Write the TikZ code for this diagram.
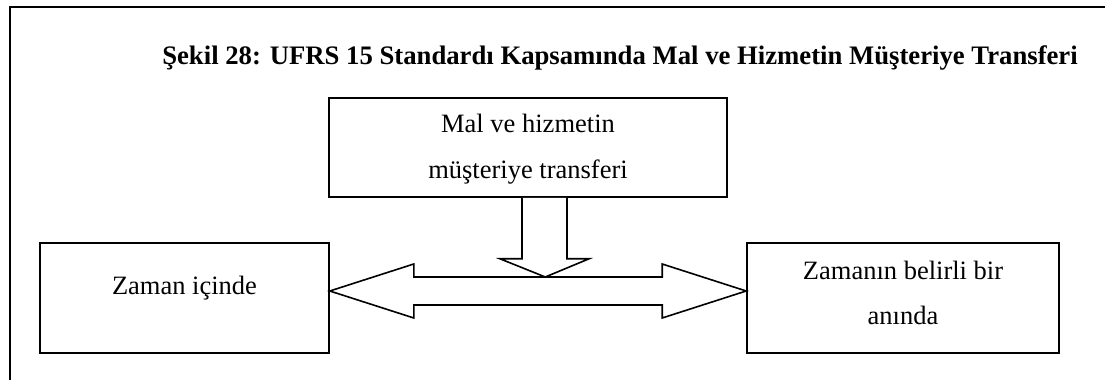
\documentclass[tikz,border=0pt]{standalone}
\usepackage{fontspec}
\setmainfont{Liberation Serif}
\usetikzlibrary{calc}
\begin{document}
\begin{tikzpicture}[x=1pt,y=1pt,
  frameline/.style={line width=2.5pt},
  box/.style={draw, line width=1.6pt, inner sep=0pt},
  txt/.style={inner sep=0pt, anchor=base, font=\fontsize{26.5}{46}\selectfont},
  blockarrow/.style={draw, line width=1.6pt, line join=miter, fill=white}]
\useasboundingbox (0,0) rectangle (1105,380);

% open frame: top and left edges
\draw[frameline] (10,0) -- (10,373) -- (1106,373);

% title
\node[inner sep=0pt, anchor=base, font=\fontsize{26.7}{32}\selectfont\bfseries] (title) at (620,315)
  {Şekil 28: UFRS 15 Standardı Kapsamında Mal ve Hizmetin Müşteriye Transferi};

% boxes
\node[box, minimum width=398pt, minimum height=99pt] (top) at (528,232.5) {};
\node[box, minimum width=289pt, minimum height=110pt] (zi) at (184.5,82) {};
\node[box, minimum width=312pt, minimum height=110pt] (za) at (903,82) {};

% box texts
\node[txt] (top1) at ($(top.center)+(0,14.5)$) {Mal ve hizmetin};
\node[txt] (top2) at ($(top.center)+(0,-31.5)$) {müşteriye transferi};
\node[txt] (zi1) at ($(zi.center)+(0,3)$) {Zaman içinde};
\node[txt] (za1) at ($(za.center)+(0,18)$) {Zamanın belirli bir};
\node[txt] (za2) at ($(za.center)+(0,-27)$) {anında};

% double block arrow between the lower boxes
\coordinate (lt) at ($(zi.east)+(0,7)$);
\coordinate (rt) at ($(za.west)+(0,7)$);
\draw[blockarrow] (lt) -- ++(84,27) -- ++(0,-13) -- ($(rt)+(-84,14)$) -- ++(0,13)
  -- (rt) -- ++(-84,-27) -- ++(0,13) -- ($(lt)+(84,-14)$) -- ++(0,-13) -- cycle;

% downward block arrow from the upper box
\coordinate (dt) at ($(top.south)+(16.5,0)$);
\draw[blockarrow] ($(dt)+(-22.5,0)$) -- ++(0,-61) -- ++(-22,0) -- ($(lt)+(215.5,14)$)
  -- ($(dt)+(44.5,-61)$) -- ++(-22,0) -- ($(dt)+(22.5,0)$);
\end{tikzpicture}
\end{document}
